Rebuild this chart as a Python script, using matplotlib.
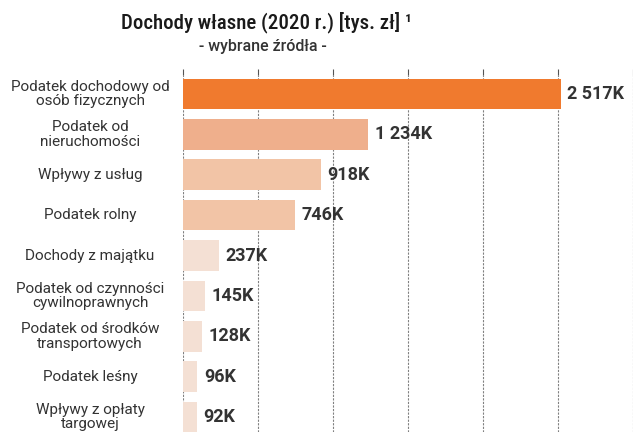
import matplotlib.pyplot as plt
import matplotlib.transforms as mtransforms
import numpy as np

categories = ['Podatek dochodowy od\nosób fizycznych', 'Podatek od\nnieruchomości', 'Wpływy z usług',
              'Podatek rolny', 'Dochody z majątku', 'Podatek od czynności\ncywilnoprawnych',
              'Podatek od środków\ntransportowych', 'Podatek leśny', 'Wpływy z opłaty\ntargowej']
values = [2517, 1234, 918, 746, 237, 145, 128, 96, 92]
value_labels = ['2 517K', '1 234K', '918K', '746K', '237K', '145K', '128K', '96K', '92K']
colors = ['#F07A2E', '#EFAF8C', '#F2C4A6', '#F2C4A6', '#F4E0D4', '#F4E0D4', '#F4E0D4', '#F4E0D4', '#F4E0D4']

plt.rcParams['font.family'] = ['Roboto', 'DejaVu Sans']

fig = plt.figure(figsize=(6.33, 4.32), dpi=100)
ax = fig.add_axes([183 / 633, 0, 450 / 633, (432 - 75) / 432])

y = np.arange(len(values))
ax.barh(y, values, height=0.76, color=colors, zorder=2)
ax.set_xlim(0, 3000)
ax.set_ylim(8.37, -0.47)
ax.set_xticks(np.arange(0, 3001, 500))
ax.xaxis.tick_top()
ax.tick_params(axis='x', length=4, color='#555555', labeltop=False, width=0.8)
ax.grid(axis='x', linestyle=(0, (2, 1.2)), color='#808080', linewidth=0.8, zorder=1)
for s in ax.spines.values():
    s.set_visible(False)

ax.set_yticks(y)
ax.set_yticklabels([])
ax.tick_params(axis='y', length=0)

# category labels centred in the left margin
trans = mtransforms.blended_transform_factory(fig.transFigure, ax.transData)
for yi, cat in zip(y, categories):
    ax.text(90 / 633, yi, cat, transform=trans, ha='center', va='center', fontsize=11,
            color='#333333', linespacing=1.05)

for yi, v, lab in zip(y, values, value_labels):
    ax.text(v + 45, yi, lab, va='center', ha='left', fontsize=13, fontweight='bold', color='#333333', zorder=3)

fig.text(266 / 633, 1 - 22 / 432, 'Dochody własne (2020 r.) [tys. zł] ¹', ha='center', va='center',
         fontsize=15, color='#1a1a1a', fontweight='medium', family=['Roboto Condensed', 'Roboto', 'DejaVu Sans'])
fig.text(263 / 633, 1 - 46 / 432, '- wybrane źródła -', ha='center', va='center',
         fontsize=11.5, color='#333333', fontweight='medium')

fig.savefig('out.png', dpi=100)
